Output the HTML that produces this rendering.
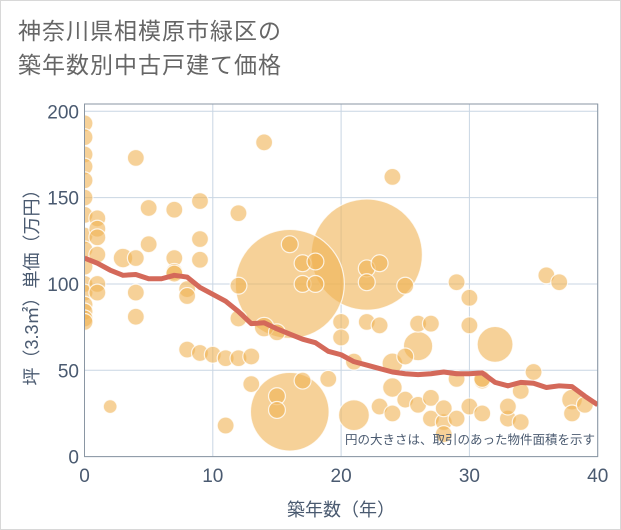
<!DOCTYPE html>
<html><head><meta charset="utf-8"><style>
body{margin:0;background:#fff;}
#wrap{position:relative;width:619px;height:528px;border:1px solid #d8d8d8;background:#fff;overflow:hidden;font-family:"Liberation Sans","Noto Sans CJK JP",sans-serif;}
#title{position:absolute;left:17px;top:13px;font-size:23px;line-height:34px;color:#666;letter-spacing:1px;}
svg{position:absolute;left:0;top:0;}
</style></head><body>
<div id="wrap">
<div id="title">神奈川県相模原市緑区の<br>築年数別中古戸建て価格</div>
<svg id="chart" width="621" height="530"></svg>
</div>
<script>
const xTicks=[0,10,20,30,40];
const yTicks=[0,50,100,150,200];
const trendYears=[0,1,2,3,4,5,6,7,8,9,10,11,12,13,14,15,16,17,18,19,20,21,22,23,24,25,26,27,28,29,30,31,32,33,34,35,36,37,38,39,40];
const trendValues=[115,112,108,105,105.5,103,103,105,104,98,94,90,84,77,77.5,74,71,68,66,61,59,55,53,51,49,48,47.5,48,49,48,48,48.5,43,41,43,42.5,40,41,40.5,35,30];
const bubbleX=[0,0,0,0,0,0,0,0,0,0,0,0,0,0,0,0,1,1,1,1,1,1,2,3,4,4,4,4,5,5,7,7,7,7,8,8,8,9,9,9,9,10,11,11,12,12,12,12,13,13,14,14,15,15,15,16,16,16,17,17,17,18,18,19,20,20,21,21,22,22,22,22,23,23,23,24,24,24,24,25,25,25,26,26,26,27,27,27,28,28,28,29,29,29,30,30,30,31,31,31,32,33,33,34,34,35,36,37,38,38,39];
const bubbleY=[193,185,175,168,160,150,140,128,120,110,100,95,88,84,80,78,138,132,127,117,100,95,29,115,115,95,81,173,144,123,143,115,107,106,97,93,62,148,126,114,60,59,57,18,141,80,99,57,58,42,182,75,35,27,72,100,26,123,44,100,112,113,100,45,78,69,24,55,117,109,101,78,29,76,112,162,54,40,25,33,99,58,77,64,30,22,34,77,20,13,28,101,45,22,76,92,29,44,45,25,65,22,29,38,20,49,105,101,25,33,30];
const bubbleSize=[6,6,6,6,6,6,6,6,6,6,6,6,6,6,6,6,6,6,6,6,6,6,4,8,6,6,6,6,6,6,6,6,6,6,6,6,6,6,6,6,6,6,6,6,6,6,6,6,6,6,6,8,6,6,6,250,130,6,6,6,6,6,6,6,6,6,20,6,260,6,6,6,6,6,6,6,9,8,6,6,6,6,6,18,6,6,6,6,6,6,6,6,6,6,6,6,6,6,6,6,27,6,6,6,6,6,6,6,6,9,6];
const X0=83.5,X1=596.7,Y0=455.6,Y1=110.3;
const xs=v=>X0+(v-0)/(40-0)*(X1-X0);
const ys=v=>Y0+(v-0)/(200-0)*(Y1-Y0);
const rs=s=>Math.sqrt(s)*3.45;
const NS="http://www.w3.org/2000/svg";
const svg=document.getElementById('chart');
function mk(t,a,p){const e=document.createElementNS(NS,t);for(const k in a)e.setAttribute(k,a[k]);(p||svg).appendChild(e);return e;}
const plot=mk('rect',{x:X0,y:103,width:X1-X0,height:Y0-103,fill:'#fff',stroke:'none'});


xTicks.forEach(t=>{
 const g=mk('line',{x1:xs(t),x2:xs(t),y1:103,y2:Y0,stroke:'#c9d6e3','stroke-width':1});
 
 
 const l=mk('text',{x:xs(t),y:481,'text-anchor':'middle','font-size':19,fill:'#4a5a70'});l.textContent=t;
 
 
});
yTicks.forEach(t=>{
 const g=mk('line',{x1:X0,x2:X1,y1:ys(t),y2:ys(t),stroke:'#c9d6e3','stroke-width':1});
 
 
 const l=mk('text',{x:78,y:ys(t)+7,'text-anchor':'end','font-size':19,fill:'#4a5a70'});l.textContent=t;
 
 
});
const clip=mk('clipPath',{id:'pc'});mk('rect',{x:X0,y:103,width:X1-X0,height:Y0-103},clip);
const gb=mk('g',{'clip-path':'url(#pc)'});
const order=bubbleX.map((_,i)=>i).sort((a,b)=>bubbleSize[b]-bubbleSize[a]);
order.forEach(i=>{
 const c=mk('circle',{cx:xs(bubbleX[i]),cy:ys(bubbleY[i]),r:rs(bubbleSize[i]),fill:'#f0b254','fill-opacity':0.6,stroke:'#fff','stroke-opacity':0.8,'stroke-width':1.2},gb);
 
 
});
const tl=mk('polyline',{points:trendYears.map((y,i)=>xs(y)+','+ys(trendValues[i])).join(' '),fill:'none',stroke:'#d4695a','stroke-width':5,'stroke-linejoin':'round'},gb);


const fr=mk('rect',{x:X0,y:103,width:X1-X0,height:Y0-103,fill:'none',stroke:'#8a96a3','stroke-width':1});


const note=mk('text',{x:594,y:443,'text-anchor':'end','font-size':12.5,fill:'#4a5a70'});note.textContent='円の大きさは、取引のあった物件面積を示す';


const xt=mk('text',{x:340,y:515,'text-anchor':'middle','font-size':18,fill:'#4a5a70'});xt.textContent='築年数（年）';


const yt=mk('text',{x:0,y:0,'text-anchor':'middle','font-size':18,fill:'#4a5a70',transform:'translate(37,282) rotate(-90)'});yt.textContent='坪（3.3㎡）単価（万円）';


</script>
</body></html>
